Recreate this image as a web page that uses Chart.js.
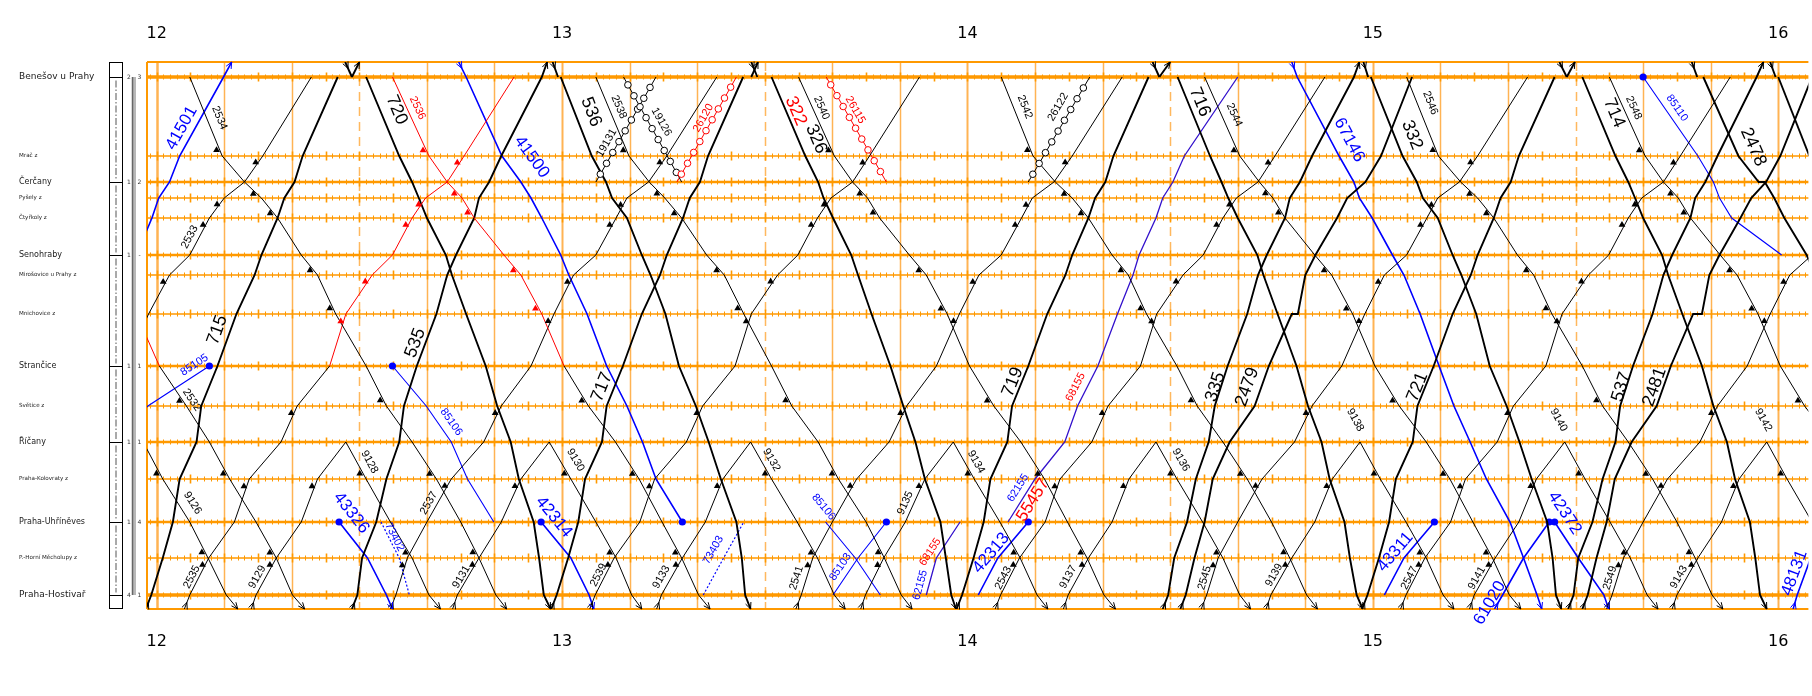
<!DOCTYPE html>
<html><head><meta charset="utf-8">
<script src="https://cdn.jsdelivr.net/npm/chart.js@4.4.1/dist/chart.umd.min.js"></script>
<style>html,body{margin:0;padding:0;background:#fff;}canvas{display:block;}</style>
</head><body>
<canvas id="c" width="1812" height="696" style="width:1812px;height:696px"></canvas>
<script>
const _ = null;
// ---- stations (top = Benešov) ----
const stationNames = ['Benešov u Prahy','Mrač z','Čerčany','Pyšely z','Čtyřkoly z','Senohraby','Mirošovice u Prahy z','Mnichovice z','Strančice','Světice z','Říčany','Praha-Kolovraty z','Praha-Uhříněves','P.-Horní Měcholupy z','Praha-Hostivař'];
const stationKm = [25.9,21.95,20.65,19.85,18.85,17.0,16.0,14.05,11.45,9.45,7.65,5.8,3.65,1.85,0];
const mainStations = [1,0,1,0,0,1,0,0,1,0,1,0,1,0,1];
const trackCounts = [['2','3'],_,['1','2'],_,_,['1','-'],_,_,['1','1'],_,['1','1'],_,['1','4'],_,['4','1']];
const hourTicks = [12,13,14,15,16];
// times in minutes after 12:00; order: [top edge, 15 stations, bottom edge]
const localDown = [
 ['2532',[_,-25.1,-19.7,-17.0,-14.8,-13.0,-8.6,-6.1,-3.0,0.4,4.4,7.8,10.8,14.7,17.7,20.1,21.9]],
 ['2534',[_,4.9,9.7,13.0,15.5,17.9,21.4,23.8,26.5,31.0,34.0,37.8,41.4,45.0,47.7,50.2,51.8]],
 ['2536',[_,34.9,40.3,43.0,45.2,47.0,51.4,53.9,57.0,60.3,63.9,67.9,71.4,74.8,77.7,80.2,81.9]],
 ['2538',[_,65.0,69.9,72.9,75.2,77.7,81.4,84.0,86.9,91.0,94.0,97.9,100.9,105.0,107.7,110.2,111.8]],
 ['2540',[_,95.0,100.3,103.0,105.2,107.0,111.4,113.9,117.0,120.3,123.9,127.9,131.4,134.8,137.7,140.2,141.9]],
 ['2542',[_,125.0,129.7,133.0,135.5,137.9,141.4,143.8,146.5,151.0,154.0,157.8,161.4,165.0,167.7,170.2,171.8]],
 ['2544',[_,155.1,160.3,163.2,165.2,167.0,171.4,173.9,177.0,180.3,183.9,187.9,191.4,194.8,197.7,200.2,201.9]],
 ['2546',[_,185.0,189.7,193.0,195.5,197.9,201.4,203.8,206.5,211.0,214.0,217.8,221.4,225.0,227.7,230.2,231.8]],
 ['2548',[_,215.0,220.3,223.0,225.2,227.0,231.4,233.9,237.0,240.3,243.9,247.9,251.4,254.8,257.7,260.2,261.9]]
];
const localUp = [
 ['2533',[_,22.9,15.7,13.0,10.0,7.8,4.9,1.9,-1.2,-4.6,-9.0,-11.6,-16.4,-20.0,-22.9,-24.6,-25.4]],
 ['2535',[_,52.9,45.5,43.0,39.8,37.8,34.9,31.9,28.0,25.6,20.8,18.4,13.7,11.5,7.7,4.9,4.1]],
 ['2537',[_,82.9,75.5,72.8,69.6,68.0,65.0,61.7,58.8,55.4,51.0,48.4,43.6,40.0,37.1,35.4,34.6]],
 ['2539',[_,112.9,105.5,103.0,99.8,97.8,94.9,91.9,88.0,85.6,80.8,78.4,73.7,71.5,67.7,64.9,64.1]],
 ['2541',[_,142.9,135.5,132.8,129.6,128.0,125.0,121.7,118.8,115.4,111.0,108.4,103.6,100.0,97.1,95.4,94.6]],
 ['2543',[_,172.9,165.5,163.0,159.8,157.8,154.9,151.9,148.0,145.6,140.8,138.4,133.7,131.5,127.7,124.9,124.1]],
 ['2545',[_,202.9,195.5,192.8,189.6,188.0,185.0,181.7,178.8,175.4,171.0,168.4,163.6,160.0,157.1,155.4,154.6]],
 ['2547',[_,232.9,225.5,223.0,219.8,217.8,214.9,211.9,208.0,205.6,200.8,198.4,193.7,191.5,187.7,184.9,184.1]],
 ['2549',[_,262.9,255.5,252.8,249.6,248.0,245.0,241.7,238.8,235.4,231.0,228.4,223.6,220.0,217.1,215.4,214.6]]
];
const redNorth = ['2532','2535','2536'];
// Říčany, Kolovraty, Uhříněves, Měcholupy, Hostivař, bottom edge
const sbahnDown = [
 ['9126',[-2.0,0.9,4.9,7.6,10.3,12.0]],['9128',[28.0,31.0,34.6,37.8,40.3,42.0]],
 ['9130',[58.1,61.3,65.0,68.0,70.3,71.8]],['9132',[87.9,91.0,94.8,97.8,100.3,101.9]],
 ['9134',[117.9,121.0,124.8,127.8,130.3,131.9]],['9136',[147.9,151.0,154.8,157.8,160.3,161.9]],
 ['9138',[178.1,181.1,184.9,187.9,190.4,192.0]],['9140',[208.4,211.4,215.1,218.1,220.6,222.2]],
 ['9142',[238.3,241.3,245.0,248.0,250.5,252.1]]
];
const sbahnUp = [
 ['9129',[28.0,23.8,21.4,17.7,14.7,14.0]],['9131',[58.1,53.9,51.0,47.7,44.5,43.8]],
 ['9133',[87.9,83.8,81.2,77.8,74.7,74.0]],['9135',[117.9,113.7,110.8,107.6,104.9,104.2]],
 ['9137',[147.9,143.9,141.4,137.9,134.9,134.2]],['9139',[178.1,174.0,171.4,168.0,164.9,164.2]],
 ['9141',[208.4,204.2,201.6,198.1,195.0,194.3]],['9143',[238.3,234.2,231.6,228.1,225.0,224.3]]
];
const fastDown = [
 ['720',[27.9,[28.9,31.0],35.9,37.8,38.8,40.0,42.8,43.7,45.8,48.7,50.4,52.4,53.6,55.8,56.6,57.3,58.3]],
 ['536',[58.6,[59.4,59.8],64.4,66.5,67.4,69.6,71.8,73.1,75.3,77.3,79.8,81.7,83.5,85.8,86.6,87.1,87.9]],
 ['322/326',[88.0,[88.9,91.0],96.0,97.9,98.7,100.1,102.8,103.8,105.8,108.6,110.5,112.3,113.7,116.0,116.8,117.6,118.3]],
 ['716',[147.4,[148.4,151.1],155.9,157.6,158.6,160.0,162.9,163.8,165.9,168.7,170.4,172.4,173.6,175.8,176.6,177.6,178.5]],
 ['332',[178.6,[179.3,179.7],184.4,186.5,187.4,189.6,191.8,193.1,195.3,197.3,199.8,201.7,203.5,205.8,206.6,207.1,207.9]],
 ['714',[207.6,[208.7,211.0],215.9,217.8,218.8,220.0,222.8,223.7,225.8,228.7,230.4,232.4,233.6,235.8,236.6,237.3,238.3]],
 ['2478',[227.2,[228.0,228.9],234.1,[237.1,238.0],239.4,240.9,244.2,245.5,_,_,_,_,_,_,_,_,_]],
 ['538',[238.8,[239.6,240.0],244.6,246.7,_,_,_,_,_,_,_,_,_,_,_,_,_]]
];
const fastUp = [
 ['715',[30.0,[26.8,28.9],21.6,20.4,18.9,17.9,15.5,14.5,11.8,9.0,6.6,5.9,3.4,2.4,0.9,-0.8,-1.6]],
 ['535',[57.8,57.0,51.0,49.2,47.7,47.0,44.3,43.0,41.4,38.5,36.6,35.9,34.0,32.5,30.4,29.7,28.9]],
 ['717',[89.0,[86.8,88.0],81.6,80.4,78.9,77.9,75.5,74.5,71.8,69.0,66.6,65.9,63.4,62.4,60.9,59.2,58.4]],
 ['719',[150.0,[146.8,148.4],141.6,140.4,138.9,137.9,135.5,134.5,131.8,129.0,126.6,125.9,123.4,122.4,120.9,119.2,118.4]],
 ['335',[178.0,177.2,171.0,169.2,167.7,167.0,164.3,163.0,161.4,158.5,156.6,155.7,153.8,152.5,150.6,149.7,148.9]],
 ['2479',[_,185.8,181.2,178.9,176.2,174.7,171.5,170.0,[168.0,168.9],164.6,162.5,158.8,156.3,155.1,153.6,152.3,151.5]],
 ['721',[209.9,[206.9,208.7],201.6,200.4,198.9,197.9,195.5,194.5,191.8,189.0,186.6,185.9,183.4,182.4,180.9,179.2,178.4]],
 ['537',[237.8,236.8,231.0,229.2,227.7,227.0,224.3,223.0,221.4,218.5,216.6,215.9,214.0,212.5,210.4,209.7,208.9]],
 ['2481',[_,245.0,240.3,238.2,236.0,234.4,231.3,229.8,[227.4,228.7],224.1,222.0,218.3,215.8,214.6,213.1,211.8,211.0]]
];
const freightTrains = [
 ['41501',[11.1,9.9,3.4,1.9,0.3,-0.7,-3.0,_,_,_,_,_,_,_,_,_,_]],
 ['41500',[44.7,45.8,51.1,53.9,55.4,57.0,59.8,61.0,63.7,66.6,69.6,71.9,73.9,77.8,_,_,_]],
 ['85105',[_,_,_,_,_,_,_,_,_,7.8,-1.3,-6.5,_,_,_,_,_]],
 ['85106',[_,_,_,_,_,_,_,_,_,34.9,39.9,43.6,46.0,49.9,_,_,_]],
 ['43326',[_,_,_,_,_,_,_,_,_,_,_,_,_,27.0,31.2,34.0,34.9]],
 ['73402',[_,_,_,_,_,_,_,_,_,_,_,_,_,33.2,35.9,37.4,_]],
 ['42314',[_,_,_,_,_,_,_,_,_,_,_,_,_,56.9,61.3,64.0,64.7]],
 ['73403',[_,_,_,_,_,_,_,_,_,_,_,_,_,86.9,83.9,80.9,_]],
 ['85106b',[_,_,_,_,_,_,_,_,_,_,_,_,_,99.0,103.4,107.1,_]],
 ['85103',[_,_,_,_,_,_,_,_,_,_,_,_,_,108.0,103.8,100.1,_]],
 ['62155',[_,_,_,_,_,_,_,_,_,_,_,_,_,118.9,115.4,113.9,_]],
 ['55457',[_,160.0,152.1,150.4,148.9,147.9,145.4,144.5,142.2,139.3,136.3,134.4,130.0,126.0,_,_,_]],
 ['42313',[_,_,_,_,_,_,_,_,_,_,_,_,_,129.0,124.5,121.6,_]],
 ['67146',[168.0,168.8,175.0,177.2,178.0,179.9,182.9,184.6,187.0,189.8,192.0,194.4,196.8,200.3,202.3,204.3,205.0]],
 ['43311',[_,_,_,_,_,_,_,_,_,_,_,_,_,189.1,184.6,181.7,_]],
 ['61020',[_,_,_,_,_,_,_,_,_,_,_,_,_,206.1,202.3,199.2,198.0]],
 ['42372',[_,_,_,_,_,_,_,_,_,_,_,_,_,206.9,210.4,214.2,214.9]],
 ['85110',[_,220.0,228.1,230.4,231.3,233.1,240.5,_,_,_,_,_,_,_,_,_,_]],
 ['48131',[_,_,_,_,_,_,_,_,_,_,_,_,_,_,244.8,242.8,242.2]]
];
// Benešov time, Čerčany time
const circleTrains = [['19131',73.9,65.0],['19126',69.1,77.7],['26120',85.8,77.0],['26115',99.1,108.0],['26122',138.1,129.0]];
const redCircle = ['26120','26115'];
// text, train, time, km, size, colour
const trainLabels = [
 ['41501','41501',3.7,23.35,'frt','b'],['2534','2534',9.3,23.85,'s','k'],['2533','2533',4.9,17.9,'s','k'],
 ['715','715',9.0,13.25,'big','k'],['85105','85105',5.6,11.5,'s','b'],['2532','2532',5.2,9.75,'s','k'],
 ['9126','9126',5.3,4.6,'s','k'],['2535','2535',5.2,0.9,'s','k'],['9129','9129',14.9,0.9,'s','k'],
 ['43326','43326',28.8,4.1,'frt','b'],['73402','73402',35.2,2.9,'s','b'],['9128','9128',31.5,6.65,'s','k'],
 ['720','720',35.5,24.25,'big','k'],['2536','2536',38.6,24.35,'s','r'],['41500','41500',55.5,21.9,'frt','b'],
 ['535','535',38.3,12.6,'big','k'],['85106','85106',43.6,8.65,'s','b'],['2537','2537',40.3,4.6,'s','k'],
 ['9131','9131',45.1,0.9,'s','k'],['42314','42314',58.8,3.9,'frt','b'],['9130','9130',62.0,6.75,'s','k'],
 ['717','717',65.9,10.4,'big','k'],['536','536',64.3,24.15,'big','k'],['2538','2538',68.4,24.4,'s','k'],
 ['19131','19131',66.6,22.6,'s','k'],['19126','19126',74.7,23.65,'s','k'],['26120','26120',80.9,23.85,'s','r'],
 ['2539','2539',65.4,1.0,'s','k'],['9133','9133',74.7,0.9,'s','k'],['73403','73403',82.4,2.25,'s','b'],
 ['9132','9132',91.0,6.75,'s','k'],['322','322/326',94.6,24.2,'big','r'],['326','322/326',97.6,22.8,'big','k'],
 ['2540','2540',98.4,24.35,'s','k'],['26115','26115',103.4,24.25,'s','r'],['2541','2541',94.7,0.85,'s','k'],
 ['85106','85106b',98.7,4.4,'s','b'],['85103','85103',101.2,1.4,'s','b'],['9135','9135',110.8,4.6,'s','k'],
 ['62155','62155',113.0,0.5,'s','b'],['68155','62155',114.5,2.15,'s','r'],['42313','42313',123.5,2.1,'frt','b'],
 ['2543','2543',125.3,0.85,'s','k'],['62155','55457',127.5,5.35,'s','b'],['55457','55457',129.7,4.75,'frt','r'],
 ['719','719',126.7,10.65,'big','k'],['9134','9134',121.3,6.65,'s','k'],['9137','9137',134.9,0.9,'s','k'],
 ['68155','55457',136.0,10.4,'s','r'],['2542','2542',128.5,24.4,'s','k'],['26122','26122',133.4,24.4,'s','k'],
 ['716','716',154.4,24.65,'big','k'],['2544','2544',159.5,24.0,'s','k'],['67146','67146',176.5,22.75,'frt','b'],
 ['332','332',185.8,23.0,'big','k'],['2546','2546',188.5,24.6,'s','k'],['335','335',156.7,10.4,'big','k'],
 ['2479','2479',161.4,10.4,'big','k'],['9136','9136',151.6,6.75,'s','k'],['2545','2545',155.1,0.85,'s','k'],
 ['9139','9139',165.4,1.0,'s','k'],['9138','9138',177.4,8.75,'s','k'],['721','721',186.6,10.4,'big','k'],
 ['43311','43311',183.3,2.15,'frt','b'],['2547','2547',185.4,0.85,'s','k'],['9141','9141',195.4,0.85,'s','k'],
 ['61020','61020',197.3,-0.4,'frt','b'],['714','714',215.7,24.1,'big','k'],['2548','2548',218.6,24.35,'s','k'],
 ['85110','85110',225.0,24.35,'s','b'],['2478','2478',236.3,22.4,'big','k'],['537','537',216.8,10.4,'big','k'],
 ['2481','2481',221.7,10.4,'big','k'],['9140','9140',207.5,8.75,'s','k'],['42372','42372',208.4,4.1,'frt','b'],
 ['2549','2549',215.1,0.85,'s','k'],['9143','9143',225.3,0.9,'s','k'],['9142','9142',237.8,8.75,'s','k'],
 ['48131','48131',242.4,1.1,'frt','b']
];

// ---- styling / building ----
const X_MIN=-1.43, X_MAX=244.46, Y_MIN=-0.7, Y_MAX=26.65;
const RED='#ff0000', BLUE='#0000ff', VIOLET='#3311cc', ORANGE='#ff9900';
const freightKind = {'41501':'heavy','41500':'heavy','85105':'light','85106':'light','43326':'heavy','73402':'dotted','42314':'heavy','73403':'dotted','85106b':'light','85103':'light','62155':'violet','55457':'violet','42313':'heavy','67146':'heavy','43311':'heavy','61020':'heavy','42372':'heavy','85110':'light','48131':'heavy'};
const freightDots = {'41500':'end','85105':'end','85106':'start','43326':'start','42314':'start','85103':'end','42313':'end','43311':'end','61020':'end','42372':'start','85110':'start'};
const HALTS = new Set([2,4,5,7,8,10,12,14]);

function kmOf(i){ return i===0?Y_MAX:(i===16?Y_MIN:stationKm[i-1]); }
function toPts(arr){
  const out=[];
  arr.forEach((v,i)=>{ if(v===null||v===undefined) return; const k=kmOf(i);
    (Array.isArray(v)?v:[v]).forEach(t=>out.push({x:t,y:k,st:i})); });
  out.sort((a,b)=>a.x-b.x); return out;
}
// split a run where it waits at Benešov (the wait itself is not drawn)
function splitAtBenesov(pts){
  const parts=[[]];
  pts.forEach((p,i)=>{
    const prev=pts[i-1];
    if(prev && prev.st===1 && p.st===1) parts.push([]);
    parts[parts.length-1].push(p);
  });
  return parts.filter(p=>p.length>1);
}
function ds(name, pts, o){
  return Object.assign({type:'line',trainName:name,data:pts,borderColor:'#000',borderWidth:1,pointRadius:0,
    pointHoverRadius:0,fill:false,tension:0,xAxisID:'x',yAxisID:'y',arrows:true}, o||{});
}
const datasets=[];
function addLocal([n,a]){
  const pts=toPts(a);
  if(redNorth.includes(n)){
    datasets.push(ds(n,pts.filter(p=>p.st<=9),{borderColor:RED,stops:true,markColor:RED}));
    datasets.push(ds(n,pts.filter(p=>p.st>=9),{stops:true,markColor:'#000'}));
  } else datasets.push(ds(n,pts,{stops:true,markColor:'#000'}));
}
localDown.forEach(addLocal); localUp.forEach(addLocal);
const pad11=[_,_,_,_,_,_,_,_,_,_,_];
sbahnDown.concat(sbahnUp).forEach(([n,a])=>datasets.push(ds(n,toPts(pad11.concat(a)),{stops:true,markColor:'#000'})));
fastDown.concat(fastUp).forEach(([n,a])=>splitAtBenesov(toPts(a)).forEach(p=>datasets.push(ds(n,p,{borderWidth:1.9}))));
freightTrains.forEach(([n,a])=>{
  const k=freightKind[n]; const pts=toPts(a);
  const o={borderColor:k==='violet'?VIOLET:BLUE, borderWidth:k==='heavy'?1.6:(k==='violet'?1.3:1.1)};
  if(k==='dotted'){o.borderDash=[2,2];o.borderWidth=1.2;}
  const d=freightDots[n];
  if(d){ o.pointRadius=pts.map((p,i)=>(d==='start'&&i===0)||(d==='end'&&i===pts.length-1)?3.6:0);
    o.pointBackgroundColor=o.borderColor; o.pointBorderWidth=0; }
  datasets.push(ds(n,pts,o));
});
circleTrains.forEach(([n,tb,tc])=>{
  const c=redCircle.includes(n)?RED:'#000';
  datasets.push(ds(n,toPts([_,tb,_,tc,_,_,_,_,_,_,_,_,_,_,_,_,_]),{borderColor:c,circles:true,arrows:false}));
});

function line(ctx,x0,y0,x1,y1){ctx.beginPath();ctx.moveTo(x0,y0);ctx.lineTo(x1,y1);ctx.stroke();}

const deco = {
  id:'deco',
  beforeDatasetsDraw(chart){
    const {ctx, chartArea:a, scales:{x:xs,y:ys}} = chart;
    ctx.save();
    for(let m=0;m<=X_MAX;m+=10){
      const px=Math.round(xs.getPixelForValue(m))+0.5;
      const half=(m%60===30);
      ctx.strokeStyle=half?'rgba(255,160,40,0.75)':'rgba(255,160,40,0.8)';
      ctx.lineWidth=(m%60===0)?(m===0?2.5:2):1.5;
      ctx.setLineDash(half?[9,6]:[]);
      line(ctx,px,a.top,px,a.bottom);
    }
    ctx.setLineDash([]);
    stationKm.forEach((km,i)=>{
      const py=ys.getPixelForValue(km);
      ctx.strokeStyle=ORANGE;
      ctx.lineWidth=(i===0||i===14)?3.5:(mainStations[i]?2.5:1.6);
      line(ctx,a.left,py,a.right,py);
      for(let m=Math.ceil(X_MIN);m<=X_MAX;m++){
        const px=Math.round(xs.getPixelForValue(m))+0.5;
        const big=(m%5===0);
        ctx.lineWidth=big?1.6:1;
        const h=big?4.5:2.5;
        line(ctx,px,py-h,px,py+h);
      }
    });
    ctx.strokeStyle=ORANGE; ctx.lineWidth=2;
    line(ctx,a.left,a.top,a.right,a.top);
    line(ctx,a.left,a.bottom,a.right,a.bottom);
    line(ctx,a.left,a.top,a.left,a.bottom);
    ctx.restore();
  },
  afterDatasetsDraw(chart){
    const {ctx, chartArea:a, scales:{x:xs,y:ys}} = chart;
    const P=d=>({x:xs.getPixelForValue(d.x),y:ys.getPixelForValue(d.y)});
    ctx.save();
    ctx.beginPath(); ctx.rect(a.left,a.top-1,a.right-a.left,a.bottom-a.top+2); ctx.clip();
    chart.data.datasets.forEach(d=>{
      const pts=d.data.map(P);
      if(pts.length<2) return;
      if(d.stops){
        ctx.fillStyle=d.markColor;
        for(let i=1;i<pts.length;i++){
          if(!HALTS.has(d.data[i].st)) continue;
          const p=pts[i], q=pts[i-1];
          const L=Math.hypot(q.x-p.x,q.y-p.y)||1;
          const cx=p.x+(q.x-p.x)/L*7-3, cy=p.y+(q.y-p.y)/L*7;
          ctx.beginPath(); ctx.moveTo(cx,cy-3.2); ctx.lineTo(cx-3.4,cy+2.6); ctx.lineTo(cx+3.4,cy+2.6); ctx.closePath(); ctx.fill();
        }
      }
      if(d.circles){
        ctx.strokeStyle=d.borderColor; ctx.lineWidth=1; ctx.fillStyle='#fff';
        let acc=0, next=9;
        for(let i=0;i<pts.length-1;i++){
          const p=pts[i], q=pts[i+1]; const L=Math.hypot(q.x-p.x,q.y-p.y);
          while(next<=acc+L-5){ const f=(next-acc)/L;
            ctx.beginPath(); ctx.arc(p.x+(q.x-p.x)*f,p.y+(q.y-p.y)*f,3.3,0,Math.PI*2); ctx.fill(); ctx.stroke(); next+=12.5; }
          acc+=L;
        }
      }
      if(d.arrows){
        ctx.strokeStyle=d.borderColor; ctx.lineWidth=1; ctx.setLineDash([]);
        const head=(tx,ty,ang)=>{ const L=7,w=0.42; ctx.beginPath();
          ctx.moveTo(tx-L*Math.cos(ang-w),ty-L*Math.sin(ang-w)); ctx.lineTo(tx,ty);
          ctx.lineTo(tx-L*Math.cos(ang+w),ty-L*Math.sin(ang+w)); ctx.stroke(); };
        const n=pts.length, s0=d.data[0].st, s1=d.data[n-1].st;
        if(s0===0||s0===16){ const ang=Math.atan2(pts[1].y-pts[0].y,pts[1].x-pts[0].x);
          head(pts[0].x+7*Math.cos(ang),pts[0].y+7*Math.sin(ang),ang); }
        if(s1===0||s1===16){ const ang=Math.atan2(pts[n-1].y-pts[n-2].y,pts[n-1].x-pts[n-2].x);
          head(pts[n-1].x,pts[n-1].y,ang); }
      }
    });
    ctx.restore();
    ctx.save();
    const sizes={big:18,frt:17,s:11}, cols={k:'#000',b:BLUE,r:RED};
    trainLabels.forEach(([text,key,t,km,sz,col])=>{
      const px=xs.getPixelForValue(t), py=ys.getPixelForValue(km);
      let best=null,bd=1e9;
      chart.data.datasets.forEach(d=>{ if(d.trainName!==key) return; const pts=d.data.map(P);
        for(let i=0;i<pts.length-1;i++){ const p=pts[i],q=pts[i+1]; if(Math.abs(q.y-p.y)<1) continue;
          const lo=Math.min(p.y,q.y),hi=Math.max(p.y,q.y); const dd=py<lo?lo-py:(py>hi?py-hi:0);
          if(dd<bd){bd=dd;best=[p,q];} } });
      let ang=0;
      if(best){ let dx=best[1].x-best[0].x, dy=best[1].y-best[0].y; if(dx<0){dx=-dx;dy=-dy;} ang=Math.atan2(dy,dx); }
      ctx.save(); ctx.translate(px,py); ctx.rotate(ang);
      ctx.font=sizes[sz]+'px "Liberation Sans", Arial, sans-serif';
      ctx.fillStyle=cols[col]; ctx.textAlign='center'; ctx.textBaseline='middle';
      ctx.fillText(text,0,0); ctx.restore();
    });
    ctx.restore();
  },
  afterDraw(chart){
    const {ctx, chartArea:a, scales:{y:ys}} = chart;
    ctx.save();
    const X0=109.5, X1=122.5, XC=116;
    ctx.strokeStyle='#000'; ctx.lineWidth=1;
    ctx.strokeRect(X0,a.top+0.5,X1-X0,a.bottom-a.top-1);
    const mY=[]; stationKm.forEach((k,i)=>{ if(mainStations[i]) mY.push(Math.round(ys.getPixelForValue(k))+0.5); });
    mY.forEach(py=>line(ctx,X0,py,X1,py));
    ctx.strokeStyle='#555'; ctx.setLineDash([7,2,1.5,2]);
    for(let i=0;i<mY.length-1;i++) line(ctx,XC,mY[i]+3,XC,mY[i+1]-3);
    ctx.setLineDash([]);
    const yB=ys.getPixelForValue(stationKm[0]), yH=ys.getPixelForValue(stationKm[14]);
    ctx.fillStyle='#b8b8b8'; ctx.fillRect(132,yB,4,yH-yB);
    ctx.strokeStyle='#666'; ctx.lineWidth=1.5; line(ctx,132.5,yB,132.5,yH);
    ctx.font='6px "DejaVu Sans", sans-serif'; ctx.fillStyle='#333'; ctx.textBaseline='middle';
    trackCounts.forEach((tc,i)=>{ if(!tc) return; const py=ys.getPixelForValue(stationKm[i]);
      ctx.textAlign='center'; ctx.fillText(tc[0],129,py); ctx.fillText(tc[1],139.5,py); });
    ctx.restore();
  }
};

const hourAxis = (pos,h,padd)=>({
  type:'linear', position:pos, min:X_MIN, max:X_MAX,
  afterBuildTicks:s=>{ s.ticks=hourTicks.map(v=>({value:(v-12)*60})); },
  afterFit:s=>{ s.height=h; },
  grid:{display:false}, border:{display:false},
  ticks:{font:{family:'"DejaVu Sans", sans-serif',size:16},color:'#000',padding:padd,maxRotation:0,autoSkip:false,
    callback:v=>String(12+Math.round(v/60))}
});

new Chart(document.getElementById('c'),{
  type:'line',
  data:{datasets},
  plugins:[deco],
  options:{
    responsive:false, animation:false, devicePixelRatio:1,
    layout:{padding:{left:19,right:0,top:0,bottom:0}},
    plugins:{legend:{display:false},tooltip:{enabled:false}},
    events:[],
    scales:{
      x:hourAxis('bottom',87,15),
      xTop:hourAxis('top',62,11),
      y:{type:'linear',position:'left',min:Y_MIN,max:Y_MAX,
        afterBuildTicks:s=>{ s.ticks=stationKm.map(v=>({value:v})); },
        afterFit:s=>{ s.width=128; },
        grid:{display:false}, border:{display:false},
        ticks:{crossAlign:'far',padding:0,autoSkip:false,color:'#1a1a1a',
          font:c=>({family:'"DejaVu Sans", sans-serif',size:(c.index===0||c.index===14)?9:(mainStations[c.index]?8:5.6)}),
          callback:(v,i)=>stationNames[i]}
      }
    }
  }
});
</script>
</body></html>
